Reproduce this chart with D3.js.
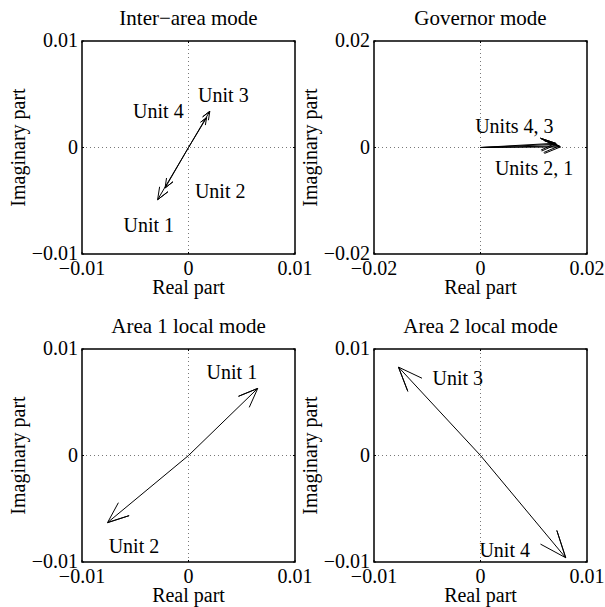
<!DOCTYPE html>
<html>
<head>
<meta charset="utf-8">
<script src="https://cdn.jsdelivr.net/npm/d3@7"></script>
<style>
	body { margin: 0; background: #fff; }
	svg text { font-family: 'Liberation Serif', 'Times New Roman', serif; font-size: 20px; fill: #000; }
	svg text.title { font-size: 21px; }
</style>
</head>
<body>
<svg width="605" height="607"></svg>
<script>
'use strict';

// Mode shapes (real / imaginary parts), one entry per unit
const units = ['Unit 1', 'Unit 2', 'Unit 3', 'Unit 4']
const titles = ['Inter\u2212area mode', 'Governor mode', 'Area 1 local mode', 'Area 2 local mode']
const limits = [0.01, 0.02, 0.01, 0.01]

const interAreaRe = [-0.0029, -0.0022, 0.0020, 0.0017]
const interAreaIm = [-0.0049, -0.0038, 0.0034, 0.0028]
const governorRe = [0.0150, 0.0148, 0.0143, 0.0141]
const governorIm = [0.0001, 0.0003, 0.0006, 0.0008]
const area1Re = [0.0065, -0.0076, null, null]
const area1Im = [0.0063, -0.0063, null, null]
const area2Re = [null, null, -0.0077, 0.0080]
const area2Im = [null, null, 0.0083, -0.0096]

// Text annotations, in data units (left edge, baseline)
const interAreaNotes = [
	{t: 'Unit 3', x: 0.0009, y: 0.0043},
	{t: 'Unit 4', x: -0.0052, y: 0.0028},
	{t: 'Unit 2', x: 0.0006, y: -0.0047},
	{t: 'Unit 1', x: -0.0061, y: -0.0079},
]
const governorNotes = [
	{t: 'Units 4, 3', x: -0.0010, y: 0.0027},
	{t: 'Units 2, 1', x: 0.0027, y: -0.0052},
]
const area1Notes = [
	{t: 'Unit 1', x: 0.0017, y: 0.0072},
	{t: 'Unit 2', x: -0.0075, y: -0.0092},
]
const area2Notes = [
	{t: 'Unit 3', x: -0.0045, y: 0.0066},
	{t: 'Unit 4', x: -0.0001, y: -0.0095},
]

const panels = [
	{re: interAreaRe, im: interAreaIm, notes: interAreaNotes},
	{re: governorRe, im: governorIm, notes: governorNotes},
	{re: area1Re, im: area1Im, notes: area1Notes},
	{re: area2Re, im: area2Im, notes: area2Notes},
]

const SIZE = 213
const origins = [[82, 41], [374, 41], [82, 349], [374, 349]]
const svg = d3.select('svg')
const fmt = (v) => v === 0 ? '0' : (v < 0 ? '\u2212' : '') + Math.abs(v).toString()

panels.forEach((p, i) => {
	const lim = limits[i]
	const [ox, oy] = origins[i]
	const g = svg.append('g').attr('transform', `translate(${ox},${oy})`)
	const x = d3.scaleLinear().domain([-lim, lim]).range([0, SIZE])
	const y = d3.scaleLinear().domain([-lim, lim]).range([SIZE, 0])
	const ticks = [-lim, 0, lim]

	// Grid at zero
	g.append('line').attr('x1', x(0)).attr('x2', x(0)).attr('y1', 0).attr('y2', SIZE)
		.attr('stroke', '#555').attr('stroke-width', 0.8).attr('stroke-dasharray', '1,3')
	g.append('line').attr('x1', 0).attr('x2', SIZE).attr('y1', y(0)).attr('y2', y(0))
		.attr('stroke', '#555').attr('stroke-width', 0.8).attr('stroke-dasharray', '1,3')

	// Inner ticks
	ticks.forEach((t) => {
		g.append('line').attr('x1', x(t)).attr('x2', x(t)).attr('y1', SIZE).attr('y2', SIZE - 2).attr('stroke', '#000')
		g.append('line').attr('x1', x(t)).attr('x2', x(t)).attr('y1', 0).attr('y2', 2).attr('stroke', '#000')
		g.append('line').attr('x1', 0).attr('x2', 2).attr('y1', y(t)).attr('y2', y(t)).attr('stroke', '#000')
		g.append('line').attr('x1', SIZE).attr('x2', SIZE - 2).attr('y1', y(t)).attr('y2', y(t)).attr('stroke', '#000')
	})

	// Tick labels
	g.selectAll('text.xt').data(ticks).enter().append('text')
		.attr('x', (d) => x(d)).attr('y', SIZE + 21)
		.attr('text-anchor', 'middle').text(fmt)
	g.selectAll('text.yt').data(ticks).enter().append('text')
		.attr('x', -4).attr('y', (d) => y(d) + 6)
		.attr('text-anchor', 'end').text(fmt)

	// Arrows, compass style: head at 0.8 of length, half-width 0.08
	const line = d3.line().x((d) => x(d[0])).y((d) => y(d[1]))
	p.re.forEach((re, k) => {
		if (re === null) return
		const im = p.im[k]
		const pts = [[0, 0], [1, 0], [0.8, 0.08], [1, 0], [0.8, -0.08]].map(([a, b]) => [a * re - b * im, a * im + b * re])
		g.append('path').attr('d', line(pts)).attr('fill', 'none')
			.attr('stroke', '#000').attr('stroke-width', 1).attr('stroke-linejoin', 'miter')
	})

	// Annotations
	g.selectAll('text.note').data(p.notes).enter().append('text')
		.attr('x', (d) => x(d.x)).attr('y', (d) => y(d.y)).text((d) => d.t)

	// Box
	g.append('rect').attr('width', SIZE).attr('height', SIZE)
		.attr('fill', 'none').attr('stroke', '#000').attr('stroke-width', 1.5)

	// Titles and axis labels
	g.append('text').attr('class', 'title').attr('x', SIZE / 2).attr('y', -16).attr('text-anchor', 'middle').text(titles[i])
	g.append('text').attr('x', SIZE / 2).attr('y', SIZE + 40).attr('text-anchor', 'middle').text('Real part')
	g.append('text').attr('transform', `translate(-57,${SIZE / 2}) rotate(-90)`)
		.attr('text-anchor', 'middle').text('Imaginary part')
})
</script>
</body>
</html>
